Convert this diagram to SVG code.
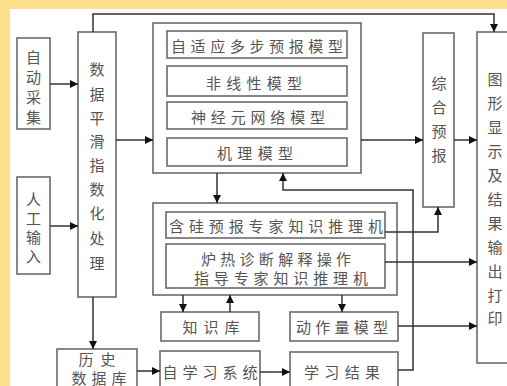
<svg xmlns="http://www.w3.org/2000/svg" width="507" height="386" viewBox="0 0 507 386">
<defs>
<style>
.box{fill:#fff;stroke:#6a6a6a;stroke-width:1.6}
.cont{fill:none;stroke:#6a6a6a;stroke-width:1.6}
.t{font-family:"Noto Sans CJK SC","Noto Sans CJK TC",sans-serif;font-size:15px;fill:#555;text-anchor:middle;dominant-baseline:central}
.c{fill:none;stroke:#333;stroke-width:1.5}
</style>
<marker id="ah" viewBox="0 0 10 10" refX="10" refY="5" markerWidth="8" markerHeight="9" markerUnits="userSpaceOnUse" orient="auto">
<path d="M0,0 L10,5 L0,10 Z" fill="#111"/>
</marker>
</defs>
<rect x="0" y="0" width="507" height="386" fill="#FDDF8A"/>
<rect x="10" y="9" width="497" height="377" fill="#fff"/>

<g id="auto">
<rect class="box" x="17" y="38" width="33" height="91"/>
<text class="t"><tspan x="33.5" y="56">自</tspan><tspan x="33.5" y="76">动</tspan><tspan x="33.5" y="96">采</tspan><tspan x="33.5" y="116">集</tspan></text>
</g>
<g id="manual">
<rect class="box" x="17" y="177" width="33" height="97"/>
<text class="t"><tspan x="33.5" y="198">人</tspan><tspan x="33.5" y="217">工</tspan><tspan x="33.5" y="236">输</tspan><tspan x="33.5" y="255">入</tspan></text>
</g>
<g id="smooth">
<rect class="box" x="78" y="32" width="38" height="265"/>
<text class="t"><tspan x="97" y="68">数</tspan><tspan x="97" y="93">据</tspan><tspan x="97" y="117">平</tspan><tspan x="97" y="140">滑</tspan><tspan x="97" y="164">指</tspan><tspan x="97" y="188">数</tspan><tspan x="97" y="212">化</tspan><tspan x="97" y="237">处</tspan><tspan x="97" y="262">理</tspan></text>
</g>
<g id="models">
<rect class="cont" x="153" y="23" width="208" height="150"/>
<rect class="box" x="167" y="31" width="180" height="27"/>
<text class="t" x="257" y="45" textLength="172" lengthAdjust="spacing">自适应多步预报模型</text>
<rect class="box" x="167" y="66" width="180" height="30"/>
<text class="t" x="254" y="82" textLength="96" lengthAdjust="spacing">非线性模型</text>
<rect class="box" x="167" y="102" width="180" height="27"/>
<text class="t" x="258" y="116" textLength="134" lengthAdjust="spacing">神经元网络模型</text>
<rect class="box" x="167" y="138" width="180" height="28"/>
<text class="t" x="255" y="152" textLength="76" lengthAdjust="spacing">机理模型</text>
</g>
<g id="combined">
<rect class="box" x="423" y="33" width="31" height="174"/>
<text class="t"><tspan x="439" y="82">综</tspan><tspan x="439" y="106">合</tspan><tspan x="439" y="130">预</tspan><tspan x="439" y="154">报</tspan></text>
</g>
<g id="display">
<rect class="box" x="477" y="32" width="40" height="331"/>
<text class="t"><tspan x="495" y="78">图</tspan><tspan x="495" y="102">形</tspan><tspan x="495" y="126">显</tspan><tspan x="495" y="150">示</tspan><tspan x="495" y="174">及</tspan><tspan x="495" y="198">结</tspan><tspan x="495" y="222">果</tspan><tspan x="495" y="246">输</tspan><tspan x="495" y="270">出</tspan><tspan x="495" y="294">打</tspan><tspan x="495" y="317">印</tspan></text>
</g>
<g id="experts">
<rect class="cont" x="153" y="203" width="244" height="92"/>
<rect class="box" x="166" y="212" width="219" height="26"/>
<text class="t" x="276" y="225" textLength="214" lengthAdjust="spacing">含硅预报专家知识推理机</text>
<rect class="box" x="166" y="244" width="219" height="44"/>
<text class="t" x="276" y="258" textLength="150" lengthAdjust="spacing">炉热诊断解释操作</text>
<text class="t" x="281" y="277" textLength="174" lengthAdjust="spacing">指导专家知识推理机</text>
</g>
<g id="kb">
<rect class="box" x="161" y="312" width="98" height="29"/>
<text class="t" x="211" y="326" textLength="57" lengthAdjust="spacing">知识库</text>
</g>
<g id="action">
<rect class="box" x="290" y="312" width="108" height="29"/>
<text class="t" x="342" y="326" textLength="92" lengthAdjust="spacing">动作量模型</text>
</g>
<g id="history">
<rect class="box" x="57" y="349" width="80" height="45"/>
<text class="t" x="97" y="358" textLength="37" lengthAdjust="spacing">历史</text>
<text class="t" x="99" y="377" textLength="55" lengthAdjust="spacing">数据库</text>
</g>
<g id="selflearn">
<rect class="box" x="160" y="351" width="100" height="43"/>
<text class="t" x="210" y="371" textLength="95" lengthAdjust="spacing">自学习系统</text>
</g>
<g id="result">
<rect class="box" x="290" y="352" width="108" height="42"/>
<text class="t" x="342" y="371" textLength="76" lengthAdjust="spacing">学习结果</text>
</g>

<g id="connectors">
<path class="c" d="M50,84 H78" marker-end="url(#ah)"/>
<path class="c" d="M50,226 H78" marker-end="url(#ah)"/>
<path class="c" d="M93,32 V14 H494 V32" marker-end="url(#ah)"/>
<path class="c" d="M116,140 H153" marker-end="url(#ah)"/>
<path class="c" d="M361,140 H423" marker-end="url(#ah)"/>
<path class="c" d="M454,140 H477" marker-end="url(#ah)"/>
<path class="c" d="M217,173 V203" marker-end="url(#ah)"/>
<path class="c" d="M398,370 H413 V190 H283 V173" marker-end="url(#ah)"/>
<path class="c" d="M385,232 H438 V207" marker-end="url(#ah)"/>
<path class="c" d="M385,262 H477" marker-end="url(#ah)"/>
<path class="c" d="M398,326 H477" marker-end="url(#ah)"/>
<path class="c" d="M183,295 V312" marker-end="url(#ah)"/>
<path class="c" d="M230,312 V295" marker-end="url(#ah)"/>
<path class="c" d="M342,295 V312" marker-end="url(#ah)"/>
<path class="c" d="M93,297 V349" marker-end="url(#ah)"/>
<path class="c" d="M137,371 H160" marker-end="url(#ah)"/>
<path class="c" d="M260,372 H290" marker-end="url(#ah)"/>
</g>
</svg>
